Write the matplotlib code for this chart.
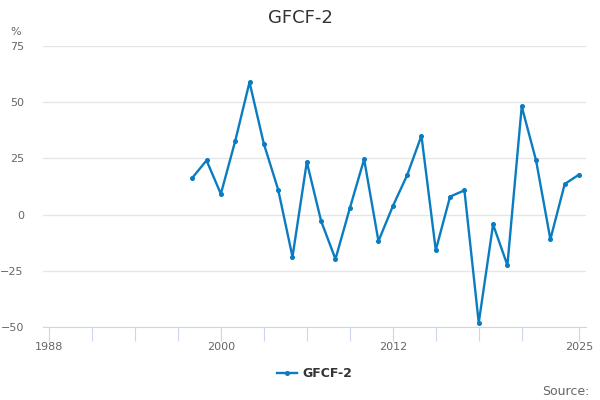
import numpy as np
import matplotlib
matplotlib.use("Agg")
import matplotlib.pyplot as plt

# values
years = list(range(1998, 2026))
gfcf2 = [16.3, 24.1, 9.2, 32.7, 58.9, 31.5, 11.1, -18.8, 23.4, -2.9,
         -19.8, 2.8, 24.6, -11.8, 3.7, 17.5, 35.1, -15.8, 8.0, 10.8,
         -48.1, -4.4, -22.5, 48.1, 24.1, -11.0, 13.6, 17.8]

x_ticks = [1988, 1991, 1994, 1997, 2000, 2003, 2006, 2009, 2012, 2015, 2018, 2021, 2025]
x_labels = ['1988', '', '', '', '2000', '', '', '', '2012', '', '', '', '2025']
y_ticks = [-50, -25, 0, 25, 50, 75]

blue = '#0a7cc1'

fig = plt.figure(figsize=(6, 4), dpi=100)
ax = fig.add_axes([0.072, 0.1825, 0.905, 0.7025])

ax.plot(years, gfcf2, color=blue, lw=1.7, marker='o', ms=2.6, label='GFCF-2')

ax.set_xlim(1987.6, 2025.5)
ax.set_ylim(-50, 75)
ax.set_xticks(x_ticks)
ax.set_xticklabels(x_labels)
ax.set_yticks(y_ticks)

ax.grid(axis='y', color='#e6e6e6', lw=1)
ax.set_axisbelow(True)
for s in ['top', 'right', 'left']:
    ax.spines[s].set_visible(False)
ax.spines['bottom'].set_color('#ccd6eb')
ax.tick_params(axis='x', length=10, color='#ccd6eb', labelsize=8, labelcolor='#666666', pad=1)
ax.tick_params(axis='y', length=0, labelsize=8, labelcolor='#666666', pad=14)

fig.text(0.5, 0.955, 'GFCF-2', ha='center', va='center', fontsize=13, color='#333333')
fig.text(0.017, 0.92, '%', ha='left', va='center', fontsize=8, color='#666666')

leg = ax.legend(loc='center', bbox_to_anchor=(0.5, -0.167), frameon=False,
                prop={'weight': 'bold', 'size': 9}, handlelength=1.6, handletextpad=0.4)
for t in leg.get_texts():
    t.set_color('#333333')

fig.text(0.982, 0.022, 'Source:', ha='right', va='center', fontsize=9, color='#666666')

fig.savefig('out.png', dpi=100)
